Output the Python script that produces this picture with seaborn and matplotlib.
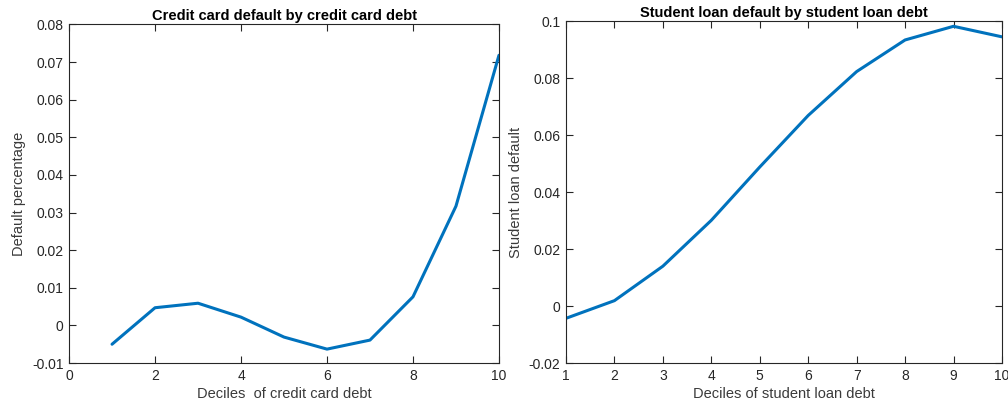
import matplotlib
matplotlib.use("Agg")
import matplotlib.pyplot as plt
import seaborn as sns
import pandas as pd

deciles = [1, 2, 3, 4, 5, 6, 7, 8, 9, 10]
cc_default = [-0.0050, 0.0047, 0.0059, 0.0022, -0.0031, -0.0063, -0.0039, 0.0076, 0.0317, 0.0718]
sl_default = [-0.0043, 0.0019, 0.0140, 0.0301, 0.0488, 0.0669, 0.0823, 0.0934, 0.0982, 0.0945]

cc_yticks = [-0.01, 0, 0.01, 0.02, 0.03, 0.04, 0.05, 0.06, 0.07, 0.08]
cc_xticks = [0, 2, 4, 6, 8, 10]
sl_yticks = [-0.02, 0, 0.02, 0.04, 0.06, 0.08, 0.1]
sl_xticks = [1, 2, 3, 4, 5, 6, 7, 8, 9, 10]

sns.set_style("ticks")
plt.rcParams['font.family'] = ['Liberation Sans', 'DejaVu Sans']
plt.rcParams['axes.edgecolor'] = '#262626'
plt.rcParams['xtick.color'] = '#262626'
plt.rcParams['ytick.color'] = '#262626'

fig = plt.figure(figsize=(10.08, 4.07), dpi=100)
ax1 = fig.add_axes([0.0685, 0.108, 0.4265, 0.832])
ax2 = fig.add_axes([0.5615, 0.108, 0.4325, 0.840])

line_color = '#0072BD'
df1 = pd.DataFrame({'x': deciles, 'y': cc_default})
df2 = pd.DataFrame({'x': deciles, 'y': sl_default})
sns.lineplot(data=df1, x='x', y='y', ax=ax1, color=line_color, linewidth=2.2)
sns.lineplot(data=df2, x='x', y='y', ax=ax2, color=line_color, linewidth=2.2)

def style(ax, xt, yt, xlim, ylim, xlabel, ylabel, title, ylabels):
    ax.set_xlim(*xlim)
    ax.set_ylim(*ylim)
    ax.set_xticks(xt)
    ax.set_xticklabels([str(v) for v in xt])
    ax.set_yticks(yt)
    ax.set_yticklabels(ylabels)
    ax.tick_params(direction='in', top=True, right=True, length=5, width=0.8,
                   labelsize=10, labelcolor='#262626', pad=4)
    for s in ax.spines.values():
        s.set_visible(True)
        s.set_linewidth(0.8)
        s.set_color('#262626')
    ax.set_xlabel(xlabel, fontsize=10.5, color='#3a3a3a', labelpad=3)
    ax.set_ylabel(ylabel, fontsize=10.5, color='#3a3a3a', labelpad=4)
    ax.set_title(title, fontsize=10.5, fontweight='bold', color='black', pad=3)

style(ax1, cc_xticks, cc_yticks, (0, 10), (-0.01, 0.08),
      'Deciles  of credit card debt', 'Default percentage',
      'Credit card default by credit card debt',
      ['-0.01', '0', '0.01', '0.02', '0.03', '0.04', '0.05', '0.06', '0.07', '0.08'])
style(ax2, sl_xticks, sl_yticks, (1, 10), (-0.02, 0.1),
      'Deciles of student loan debt', 'Student loan default',
      'Student loan default by student loan debt',
      ['-0.02', '0', '0.02', '0.04', '0.06', '0.08', '0.1'])

fig.savefig('out.png', dpi=100)
